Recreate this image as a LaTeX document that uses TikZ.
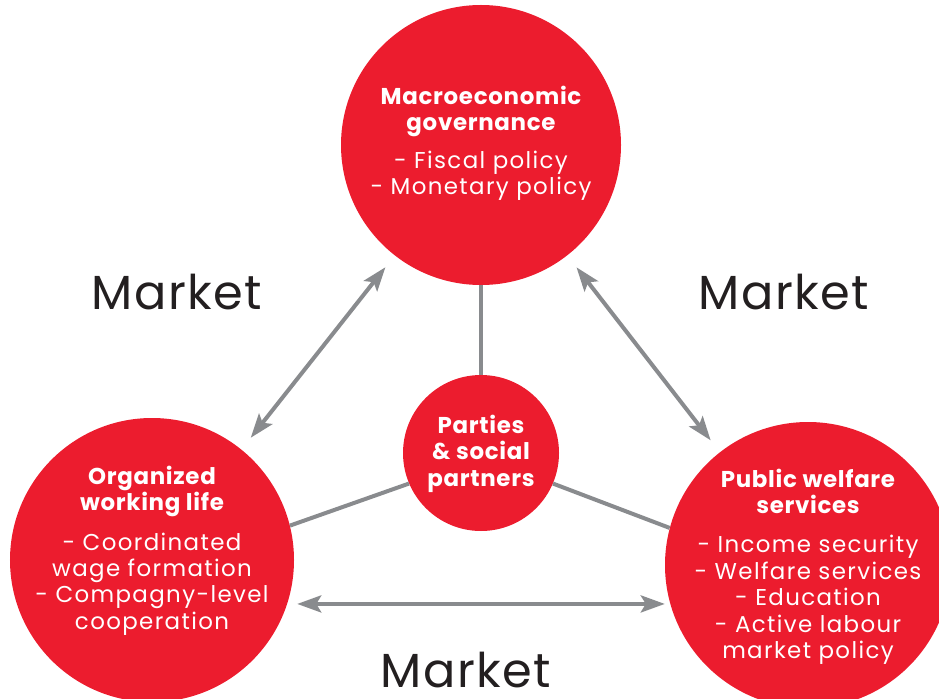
\documentclass[tikz,border=0pt]{standalone}
\usepackage{fontspec}
\setmainfont{Poppins}
\newfontfamily\listfont{Poppins}[LetterSpace=6]
\newfontfamily\headfont{Poppins}[LetterSpace=3]
\newcommand\headline[1]{{\headfont\bfseries #1}}
\usetikzlibrary{arrows.meta}
\definecolor{bubblered}{HTML}{EC1C2E}
\definecolor{arrowgray}{HTML}{898B8E}
\definecolor{darktext}{HTML}{231F20}

\begin{document}
\begin{tikzpicture}[x=1bp, y=-1bp,
    bubble/.style={circle, fill=bubblered, inner sep=0pt},
    bubbletext/.style={text=white, align=center, font=\listfont\fontsize{23}{26.5}\selectfont},
    link/.style={arrowgray, line width=4bp},
    market/.style={{Stealth[length=24bp, width=17bp, inset=5bp]}-{Stealth[length=24bp, width=17bp, inset=5bp]}, arrowgray, line width=4bp},
    marketlabel/.style={darktext, inner sep=0pt, font=\headfont\fontsize{48}{48}\selectfont}]

    \useasboundingbox (0,0) rectangle (939,699);

    % Circles
    \node[bubble, minimum size=280bp] (macro) at (481,145) {};
    \node[bubble, minimum size=284bp] (work) at (152,560) {};
    \node[bubble, minimum size=286bp] (welfare) at (808,565) {};
    \node[bubble, minimum size=156bp] (mid) at (481,453) {};

    % Links to the middle
    \draw[link] (macro) -- (mid);
    \draw[link] (work.14) -- (mid.203);
    \draw[link] (mid.337) -- (welfare.165);

    % Texts
    \node[bubbletext] (macrotext) at (481,143.5) {\headline{Macroeconomic}\\\headline{governance}\\[11bp]
        - Fiscal policy\\- Monetary policy};
    \node[bubbletext] (worktext) at (152,550.5) {\headline{Organized}\\\headline{working life}\\[13bp]
        - Coordinated\\wage formation\\- Compagny-level\\cooperation};
    \node[bubbletext] (welfaretext) at (808,566.5) {\headline{Public welfare}\\\headline{services}\\[13bp]
        - Income security\\- Welfare services\\- Education\\- Active labour\\market policy};
    \node[bubbletext] (midtext) at (481,453.5) {\headline{Parties}\\\headline{\& social}\\\headline{partners}};

    % Market arrows
    \draw[market, shorten <=15bp, shorten >=15bp] (macro.232) -- (work.51);
    \draw[market, shorten <=15bp, shorten >=15bp] (macro.308) -- (welfare.128);
    \draw[market, shorten <=10bp] (work.342) -- (work.342 -| welfare.west);

    \node[marketlabel] (marketleft) at (177,292) {Market};
    \node[marketlabel] (marketright) at (784,292) {Market};
    \node[marketlabel] (marketbottom) at (466,670) {Market};

\end{tikzpicture}
\end{document}
